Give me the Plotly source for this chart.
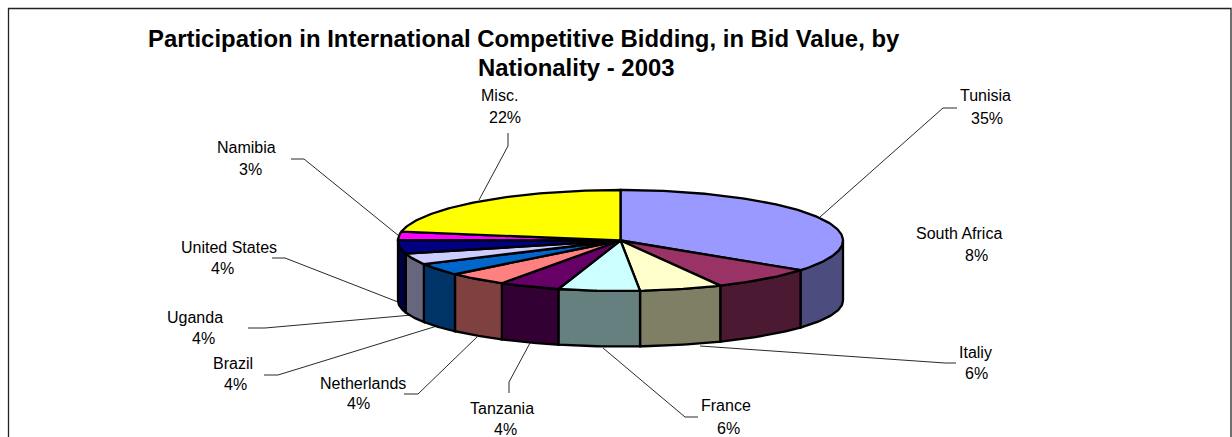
import math
import plotly.graph_objects as go

# ---- data ----
categories = ["Tunisia", "South Africa", "Italiy", "France", "Tanzania", "Netherlands",
              "Brazil", "Uganda", "United States", "Namibia", "Misc."]
values = [35.0, 7.6, 6.0, 5.9, 4.45, 4.4, 3.9, 3.55, 4.4, 2.6, 22.2]
colors = ["#9999FF", "#993366", "#FFFFCC", "#CCFFFF", "#660066", "#FF8080",
          "#0066CC", "#CCCCFF", "#000080", "#FF00FF", "#FFFF00"]
title_lines = ["Participation in International Competitive Bidding, in Bid Value, by",
               "Nationality - 2003"]

# ---- layout (pixel space of the page) ----
W, H = 1232, 437
CX, CY, RX, RY = 620.5, 240.5, 222.5, 50.5       # top face
BY, BRY = 300.5, 46.0                             # bottom rim
FONT = "Liberation Sans"

name_pos = {"Tunisia": (985.5, 95), "South Africa": (958.5, 233), "Italiy": (975.5, 352),
            "France": (726, 405.5), "Tanzania": (502, 408), "Netherlands": (363, 383),
            "Brazil": (233, 363), "Uganda": (194.5, 317), "United States": (229, 247),
            "Namibia": (246.5, 147), "Misc.": (499, 95.5)}
pct_pos = {"Tunisia": (987, 118), "South Africa": (976, 255), "Italiy": (976, 373),
           "France": (728, 428), "Tanzania": (505, 429), "Netherlands": (358.7, 403),
           "Brazil": (235, 384), "Uganda": (203, 338), "United States": (222, 268),
           "Namibia": (250, 169), "Misc.": (504.5, 117.5)}
leaders = {"Tunisia": [(820, 217), (943, 108), (957, 108)],
           "Misc.": [(479, 200), (508, 146), (508, 133)],
           "Namibia": [(399, 236), (304, 159), (291, 159)],
           "United States": [(398, 302), (285, 258), (272, 258)],
           "Uganda": [(412, 315), (265, 328), (248, 328)],
           "Brazil": [(437, 326), (278, 375), (264, 375)],
           "Netherlands": [(477, 337), (418, 394), (404, 394)],
           "Tanzania": [(530, 343), (509, 382), (509, 393)],
           "France": [(603, 348), (685, 417), (698, 417)],
           "Italiy": [(700, 346), (945, 363), (956, 363)]}


def top_pt(t):
    return CX + RX * math.sin(t), CY - RY * math.cos(t)


def bottom_pt(t):
    return CX + RX * math.sin(t), BY - BRY * math.cos(t)


def arc(fn, a, b, step=1.0):
    n = max(2, int(abs(b - a) / step) + 1)
    return [fn(math.radians(a + (b - a) * i / (n - 1))) for i in range(n)]


def darker(hex_color):
    r, g, b = (int(hex_color[i:i + 2], 16) for i in (1, 3, 5))
    return f"rgb({r // 2},{g // 2},{b // 2})"


fig = go.Figure()


def add_poly(pts, fill, name, lw=2.3):
    fig.add_trace(go.Scatter(x=[p[0] for p in pts] + [pts[0][0]],
                             y=[p[1] for p in pts] + [pts[0][1]],
                             mode="lines", fill="toself", fillcolor=fill,
                             line=dict(color="black", width=lw),
                             name=name, showlegend=False, hoverinfo="name"))


# leader lines under the pie
for cat, pts in leaders.items():
    fig.add_trace(go.Scatter(x=[p[0] for p in pts], y=[p[1] for p in pts], mode="lines",
                             line=dict(color="#111111", width=0.9),
                             showlegend=False, hoverinfo="skip"))

# slice angles from the values
total = sum(values)
angles = [0.0]
for v in values:
    angles.append(angles[-1] + v / total * 360)

# side walls, only the front half shows
for i, cat in enumerate(categories):
    a, b = max(angles[i], 90), min(angles[i + 1], 270)
    if b > a:
        add_poly(arc(top_pt, a, b) + arc(bottom_pt, b, a), darker(colors[i]), cat + " side")

# top face
for i, cat in enumerate(categories):
    add_poly([(CX, CY)] + arc(top_pt, angles[i], angles[i + 1]), colors[i], cat)

annotations = []


def text(x, y, s, size, bold=False):
    annotations.append(dict(x=x, y=y, xref="x", yref="y", text=f"<b>{s}</b>" if bold else s,
                            showarrow=False, xanchor="center", yanchor="middle",
                            font=dict(family=FONT, size=size, color="black")))


text(523.5, 38, title_lines[0], 23.9, True)
text(576.5, 67.5, title_lines[1], 23.9, True)
for cat, v in zip(categories, values):
    text(*name_pos[cat], cat, 16)
    text(*pct_pos[cat], f"{round(v)}%", 16)

frame = dict(type="path", path=f"M 8.5 {H + 5} L 8.5 8.5 L 1231 8.5 L 1231 {H + 5}",
             line=dict(color="#222222", width=1.3), xref="x", yref="y")

fig.update_layout(width=W, height=H, margin=dict(l=0, r=0, t=0, b=0),
                  paper_bgcolor="white", plot_bgcolor="white", showlegend=False,
                  xaxis=dict(range=[0, W], visible=False, fixedrange=True),
                  yaxis=dict(range=[H, 0], visible=False, fixedrange=True),
                  annotations=annotations, shapes=[frame])
fig.write_html("out.html", config=dict(displayModeBar=False),
               post_script="document.body.style.margin='0';document.body.style.overflow='hidden';")
